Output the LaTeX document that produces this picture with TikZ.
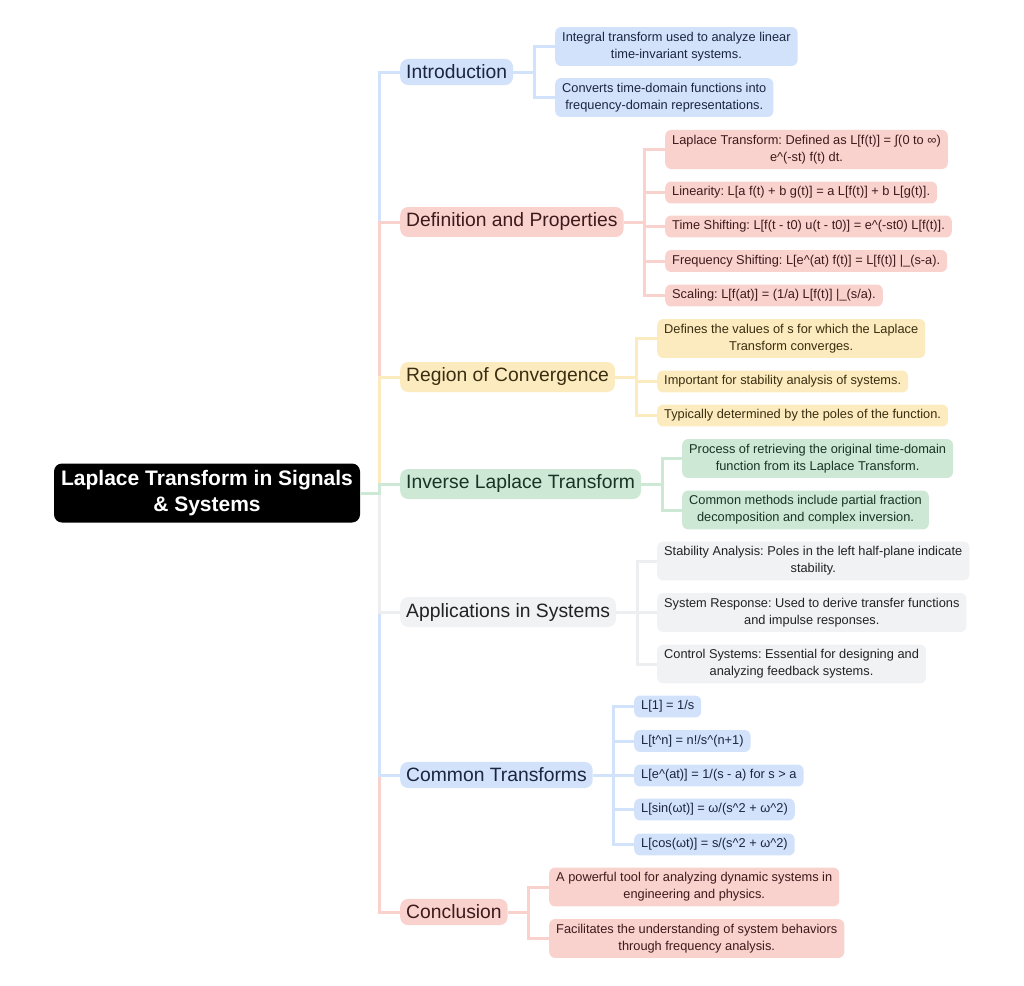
\documentclass[tikz,border=0pt]{standalone}
\usepackage{fontspec}
\setmainfont{Liberation Sans}
\frenchspacing
\usetikzlibrary{positioning}
\definecolor{blueF}{HTML}{D3E2FB}
\definecolor{blueT}{HTML}{1B2540}
\definecolor{pinkF}{HTML}{F9D2CE}
\definecolor{pinkT}{HTML}{3D1A1A}
\definecolor{yellowF}{HTML}{FDEBC0}
\definecolor{yellowT}{HTML}{3A2E10}
\definecolor{greenF}{HTML}{CDE8D5}
\definecolor{greenT}{HTML}{1A3324}
\definecolor{grayF}{HTML}{F1F2F4}
\definecolor{grayL}{HTML}{EDEEF0}
\definecolor{grayT}{HTML}{222222}
\tikzset{x=1pt, y=-1pt,
    rootbox/.style={rectangle, fill=black, text=white, rounded corners=8pt, align=center, minimum width=306pt, minimum height=59pt, font=\fontsize{21}{26}\selectfont\bfseries},
    branch/.style={rectangle, anchor=west, rounded corners=8pt, align=center, inner xsep=6pt, inner ysep=6pt, font=\fontsize{19.3}{23}\selectfont},
    leaf/.style={rectangle, anchor=west, rounded corners=6pt, align=center, inner xsep=7pt, inner ysep=5pt, font=\fontsize{12.8}{17}\selectfont},
    bluebox/.style={fill=blueF, text=blueT},
    pinkbox/.style={fill=pinkF, text=pinkT},
    yellowbox/.style={fill=yellowF, text=yellowT},
    greenbox/.style={fill=greenF, text=greenT},
    graybox/.style={fill=grayF, text=grayT},
    blueline/.style={draw=blueF, line width=3pt},
    pinkline/.style={draw=pinkF, line width=3pt},
    yellowline/.style={draw=yellowF, line width=3pt},
    greenline/.style={draw=greenF, line width=3pt},
    grayline/.style={draw=grayL, line width=3pt}}

\begin{document}
\begin{tikzpicture}
    \useasboundingbox (0,0) rectangle (1024,985);
    \node[rootbox] (root) at (207,493) {Laplace Transform in Signals\\ \& Systems};
    % main branches
    \node[branch, bluebox] (intro) at (400,72) {Introduction};
    \node[branch, pinkbox] (defn) at (400,222) {Definition and Properties};
    \node[branch, yellowbox] (roc) at (400,377) {Region of Convergence};
    \node[branch, greenbox] (inverse) at (400,484) {Inverse Laplace Transform};
    \node[branch, graybox] (apps) at (400,612) {Applications in Systems};
    \node[branch, bluebox] (common) at (400,775) {Common Transforms};
    \node[branch, pinkbox] (concl) at (400,912) {Conclusion};
    % leaves
    \node[leaf, bluebox] (intro1) at (555,46.5) {Integral transform used to analyze linear\\ time-invariant systems.};
    \node[leaf, bluebox] (intro2) at (555,97.5) {Converts time-domain functions into\\ frequency-domain representations.};
    \node[leaf, pinkbox] (defn1) at (665,149.5) {Laplace Transform: Defined as L[f(t)] = ∫(0 to ∞)\\ e\^{}(-st) f(t) dt.};
    \node[leaf, pinkbox] (defn2) at (665,192.5) {Linearity: L[a f(t) + b g(t)] = a L[f(t)] + b L[g(t)].};
    \node[leaf, pinkbox] (defn3) at (665,226.5) {Time Shifting: L[f(t - t0) u(t - t0)] = e\^{}(-st0) L[f(t)].};
    \node[leaf, pinkbox] (defn4) at (665,261) {Frequency Shifting: L[e\^{}(at) f(t)] = L[f(t)] |\_(s-a).};
    \node[leaf, pinkbox] (defn5) at (665,295.5) {Scaling: L[f(at)] = (1/a) L[f(t)] |\_(s/a).};
    \node[leaf, yellowbox] (roc1) at (657,338.5) {Defines the values of s for which the Laplace\\ Transform converges.};
    \node[leaf, yellowbox] (roc2) at (657,381.5) {Important for stability analysis of systems.};
    \node[leaf, yellowbox] (roc3) at (657,415.5) {Typically determined by the poles of the function.};
    \node[leaf, greenbox] (inverse1) at (682,458.5) {Process of retrieving the original time-domain\\ function from its Laplace Transform.};
    \node[leaf, greenbox] (inverse2) at (682,510) {Common methods include partial fraction\\ decomposition and complex inversion.};
    \node[leaf, graybox] (apps1) at (657,561) {Stability Analysis: Poles in the left half-plane indicate\\ stability.};
    \node[leaf, graybox] (apps2) at (657,612.5) {System Response: Used to derive transfer functions\\ and impulse responses.};
    \node[leaf, graybox] (apps3) at (657,664) {Control Systems: Essential for designing and\\ analyzing feedback systems.};
    \node[leaf, bluebox] (common1) at (634,706.5) {L[1] = 1/s};
    \node[leaf, bluebox] (common2) at (634,741) {L[t\^{}n] = n!/s\^{}(n+1)};
    \node[leaf, bluebox] (common3) at (634,775.5) {L[e\^{}(at)] = 1/(s - a) for s > a};
    \node[leaf, bluebox] (common4) at (634,809.5) {L[sin(ωt)] = ω/(s\^{}2 + ω\^{}2)};
    \node[leaf, bluebox] (common5) at (634,844.5) {L[cos(ωt)] = s/(s\^{}2 + ω\^{}2)};
    \node[leaf, pinkbox] (concl1) at (549,887) {A powerful tool for analyzing dynamic systems in\\ engineering and physics.};
    \node[leaf, pinkbox] (concl2) at (549,938.5) {Facilitates the understanding of system behaviors\\ through frequency analysis.};
    % connectors from the root
    \draw[blueline] (root.east) -- ++(19,0) |- (intro.west);
    \draw[pinkline] (root.east) -- ++(19,0) |- (defn.west);
    \draw[yellowline] (root.east) -- ++(19,0) |- (roc.west);
    \draw[pinkline] (root.east) -- ++(19,0) |- (concl.west);
    \draw[blueline] (root.east) -- ++(19,0) |- (common.west);
    \draw[grayline] (root.east) -- ++(19,0) |- (apps.west);
    \draw[greenline] (root.east) -- ++(19,0) |- (inverse.west);
    % connectors to the leaves
    \foreach \c in {intro1,intro2} \draw[blueline] (intro.east) -- ++(21,0) |- (\c.west);
    \foreach \c in {defn1,defn2,defn3,defn4,defn5} \draw[pinkline] (defn.east) -- ++(21,0) |- (\c.west);
    \foreach \c in {roc1,roc2,roc3} \draw[yellowline] (roc.east) -- ++(21,0) |- (\c.west);
    \foreach \c in {inverse1,inverse2} \draw[greenline] (inverse.east) -- ++(21,0) |- (\c.west);
    \foreach \c in {apps1,apps2,apps3} \draw[grayline] (apps.east) -- ++(21,0) |- (\c.west);
    \foreach \c in {common1,common2,common3,common4,common5} \draw[blueline] (common.east) -- ++(21,0) |- (\c.west);
    \foreach \c in {concl1,concl2} \draw[pinkline] (concl.east) -- ++(21,0) |- (\c.west);
\end{tikzpicture}
\end{document}
